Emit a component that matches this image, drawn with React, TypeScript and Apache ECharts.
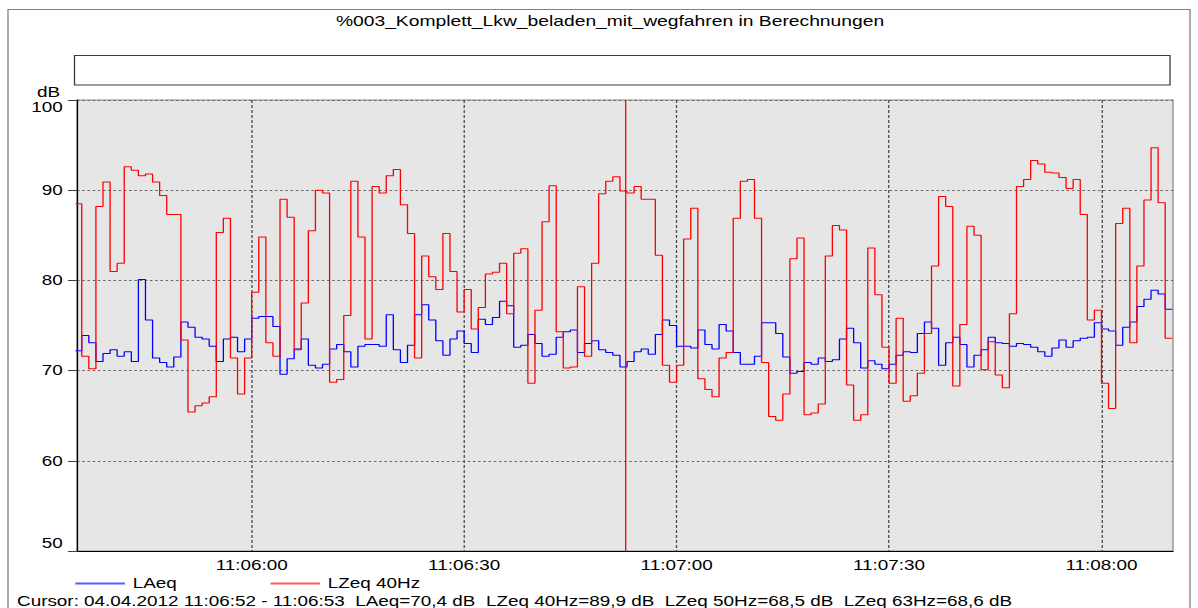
import React, { useEffect, useRef } from "react";
import * as echarts from "echarts";

// ---------- data ----------
const chartTitle = "%003_Komplett_Lkw_beladen_mit_wegfahren in Berechnungen";
const seriesNames = ["LAeq", "LZeq 40Hz"];
// time is measured in seconds after 11:05:00
const baseHour = 11;
const baseMinute = 5;
const startSecond = 35; // first 1-s interval 11:05:35 - 11:05:36
const viewStart = 35.33;
const viewEnd = 190.1;
const tickSeconds = [60, 90, 120, 150, 180];
const yMin = 50;
const yMax = 100;
const yStep = 10;

const laeq = [
  72.2, 73.9, 73.1, 71.0, 71.9, 72.3, 71.6, 72.1, 71.0, 80.1, 75.6, 71.4, 70.9, 70.4, 71.5, 75.4, 74.8, 73.7, 73.5, 72.7, 71.0, 73.5, 73.7, 72.1, 73.5, 75.8,
  76.0, 76.0, 74.9, 69.6, 71.3, 72.4, 73.5, 70.6, 70.3, 70.7, 72.4, 72.9, 72.1, 70.4, 72.7, 72.9, 72.9, 72.7, 76.2, 72.3, 70.9, 72.8, 76.2, 77.3, 75.6,
  73.3, 71.7, 73.5, 74.4, 73.0, 72.0, 75.7, 75.1, 75.9, 77.7, 77.2, 72.6, 72.8, 74.0, 73.0, 71.6, 71.8, 73.7, 74.3, 74.5, 72.0, 73.0, 73.3, 72.3, 72.0, 71.7,
  70.4, 71.0, 72.1, 72.4, 71.8, 74.0, 75.6, 75.0, 72.7, 72.7, 72.5, 74.5, 72.9, 72.4, 75.1, 74.4, 72.0, 70.7, 70.7, 71.6, 75.3, 75.3, 74.1, 71.5, 69.7, 69.9,
  70.9, 70.7, 71.4, 71.0, 71.2, 73.5, 74.7, 73.1, 70.3, 71.1, 70.7, 70.2, 70.7, 71.7, 72.1, 72.0, 74.1, 75.4, 74.7, 70.6, 73.1, 73.7, 72.9, 70.4, 71.7,
  72.3, 73.7, 73.1, 73.0, 72.7, 73.0, 72.9, 72.6, 72.1, 71.6, 72.5, 73.4, 72.6, 73.3, 73.6, 73.7, 75.3, 74.6, 74.4, 72.8, 74.8, 75.4, 77.1, 77.9, 78.9, 78.5, 76.8,
];

const lzeq40 = [
  88.5, 71.6, 70.2, 88.2, 90.9, 81.0, 81.9, 92.6, 92.2, 91.6, 91.8, 90.9, 89.4, 87.3, 87.3, 73.4, 65.4, 66.1, 66.4, 67.1, 85.3, 86.9, 71.4, 67.4, 71.4, 78.7,
  84.8, 73.1, 71.6, 89.0, 87.0, 72.3, 77.5, 85.5, 90.0, 89.7, 68.7, 69.0, 76.1, 91.0, 84.8, 73.5, 90.4, 89.7, 91.6, 92.3, 88.4, 85.2, 71.4, 82.7, 80.4,
  79.0, 85.2, 81.0, 76.5, 79.0, 74.6, 77.0, 80.7, 80.9, 81.9, 76.3, 83.0, 83.5, 68.6, 76.7, 86.5, 90.5, 74.3, 70.3, 70.4, 79.3, 71.6, 81.9, 89.6, 91.0, 91.5,
  89.9, 89.7, 90.4, 89.0, 89.0, 82.8, 70.6, 68.7, 70.6, 84.6, 88.0, 69.1, 67.9, 67.1, 71.4, 72.0, 86.9, 91.0, 91.2, 86.9, 70.9, 64.9, 64.5, 67.4, 82.4, 84.7,
  65.1, 65.3, 66.3, 82.7, 86.1, 85.6, 68.4, 64.5, 65.1, 83.6, 78.4, 72.6, 68.6, 75.8, 66.6, 67.2, 69.7, 74.1, 81.6, 89.3, 88.2, 68.3, 75.1, 86.0, 85.0,
  70.1, 73.2, 69.5, 68.1, 76.3, 90.4, 91.2, 93.3, 92.9, 92.0, 91.9, 91.4, 90.2, 91.2, 87.3, 75.6, 76.7, 68.6, 65.8, 86.3, 88.0, 73.1, 81.6, 88.9, 94.7, 88.6, 73.6,
];

// cursor
const cursorDate = "04.04.2012";
const cursorSecond = 112; // interval 11:06:52 - 11:06:53
const cursorLinePos = 112.7;
const cursorLZeq50 = 68.5;
const cursorLZeq63 = 68.6;

// ---------- helpers ----------
const pad = (n: number) => String(n).padStart(2, "0");
const fmtTime = (s: number) => {
  const total = baseHour * 3600 + baseMinute * 60 + Math.round(s);
  return `${pad(Math.floor(total / 3600))}:${pad(Math.floor((total % 3600) / 60))}:${pad(total % 60)}`;
};
const fmtDb = (v: number) => v.toFixed(1).replace(".", ",");
const toStepData = (vals: number[]) => {
  const d = vals.map((v, i) => [startSecond + i, v]);
  d.push([startSecond + vals.length, vals[vals.length - 1]]);
  return d;
};

// ---------- layout (chart drawn at W x H, then stretched to 1198 wide) ----------
const W = 920;
const H = 608;
const SX = 1198 / W;
const FONT = "'Liberation Sans', Arial, Helvetica, sans-serif";

export default function App() {
  const ref = useRef<HTMLDivElement>(null);
  useEffect(() => {
    if (!ref.current) return;
    const chart = echarts.init(ref.current, undefined, { renderer: "svg" });
    const ci = cursorSecond - startSecond;
    const cursorText =
      `Cursor: ${cursorDate} ${fmtTime(cursorSecond)} - ${fmtTime(cursorSecond + 1)}  ` +
      `${seriesNames[0]}=${fmtDb(laeq[ci])} dB  ${seriesNames[1]}=${fmtDb(lzeq40[ci])} dB  ` +
      `LZeq 50Hz=${fmtDb(cursorLZeq50)} dB  LZeq 63Hz=${fmtDb(cursorLZeq63)} dB`;
    const plotLeft = 77 / SX;
    const plotRight = 1173 / SX;
    chart.setOption({
      animation: false,
      backgroundColor: "#ffffff",
      textStyle: { fontFamily: FONT },
      grid: {
        left: plotLeft,
        top: 100,
        width: plotRight - plotLeft,
        height: 451,
        show: true,
        backgroundColor: "#e6e6e6",
        borderColor: "#8a8a8a",
        borderWidth: 1,
        containLabel: false,
        outerBoundsMode: "none",
      },
      legend: {
        data: seriesNames,
        left: 75.4 / SX,
        top: 576,
        padding: 0,
        icon: "rect",
        itemWidth: 38,
        itemHeight: 2,
        itemGap: 72,
        textStyle: { color: "#000", fontSize: 14.5, fontFamily: FONT, padding: [0, 0, 0, 1] },
      },
      xAxis: {
        type: "value",
        min: viewStart,
        max: viewEnd,
        axisLine: { show: true, onZero: false, lineStyle: { color: "#000", width: 1 } },
        axisTick: { show: false, customValues: tickSeconds },
        axisLabel: {
          customValues: tickSeconds,
          formatter: (v: number) => fmtTime(v),
          color: "#000",
          fontSize: 14.5,
          margin: 7,
          fontFamily: FONT,
        },
        splitLine: { show: true, lineStyle: { color: "#4a4a4a", width: 1, type: [3, 2] } },
      },
      yAxis: {
        type: "value",
        min: yMin,
        max: yMax,
        interval: yStep,
        axisLine: { show: true, lineStyle: { color: "#000", width: 1 } },
        axisTick: { show: true, length: 7, lineStyle: { color: "#404040" } },
        axisLabel: {
          color: "#000",
          fontSize: 14.5,
          margin: 11,
          fontFamily: FONT,
          verticalAlignMaxLabel: "top",
          verticalAlignMinLabel: "bottom",
        },
        splitLine: { show: true, lineStyle: { color: "#6a6a6a", width: 1, type: [2, 2] } },
      },
      series: [
        {
          name: seriesNames[0],
          type: "line",
          step: "end",
          data: toStepData(laeq),
          symbol: "none",
          lineStyle: { color: "#0000ff", width: 1 },
          itemStyle: { color: "#5a5aff" },
        },
        {
          name: seriesNames[1],
          type: "line",
          step: "end",
          data: toStepData(lzeq40),
          symbol: "none",
          lineStyle: { color: "#ff0000", width: 1 },
          itemStyle: { color: "#ff5a5a" },
          markLine: {
            silent: true,
            symbol: "none",
            label: { show: false },
            lineStyle: { color: "#ff0000", width: 1, type: "solid" },
            data: [{ xAxis: cursorLinePos }],
          },
        },
      ],
      graphic: [
        {
          type: "rect",
          shape: { x: 8 / SX, y: 9.5, width: (1190 - 8) / SX, height: 700 },
          style: { fill: "none", stroke: "#808080", lineWidth: 1 },
          silent: true,
          z: 0,
        },
        {
          type: "text",
          x: 610 / SX,
          y: 21,
          style: {
            text: chartTitle,
            fontSize: 14.8,
            fontFamily: FONT,
            fill: "#000",
            align: "center",
            verticalAlign: "middle",
          },
        },
        {
          type: "rect",
          shape: { x: 74.5 / SX, y: 55.5, width: (1170 - 74.5) / SX, height: 29.5 },
          style: { fill: "#ffffff", stroke: "#3a3a3a", lineWidth: 1 },
          silent: true,
        },
        {
          type: "text",
          x: 60 / SX,
          y: 92,
          style: {
            text: "dB",
            fontSize: 14.5,
            fontFamily: FONT,
            fill: "#000",
            align: "right",
            verticalAlign: "middle",
          },
        },
        {
          type: "text",
          x: 17 / SX,
          y: 601,
          style: {
            text: cursorText,
            fontSize: 14.5,
            fontFamily: FONT,
            fill: "#000",
            align: "left",
            verticalAlign: "middle",
          },
        },
      ],
    });
    return () => chart.dispose();
  }, []);

  return (
    <div style={{ position: "absolute", left: 0, top: 0, width: 1198, height: H, overflow: "hidden", background: "#fff" }}>
      <div
        ref={ref}
        style={{ position: "absolute", left: 0, top: 0, width: W, height: H, transform: `scaleX(${SX})`, transformOrigin: "0 0" }}
      />
    </div>
  );
}
